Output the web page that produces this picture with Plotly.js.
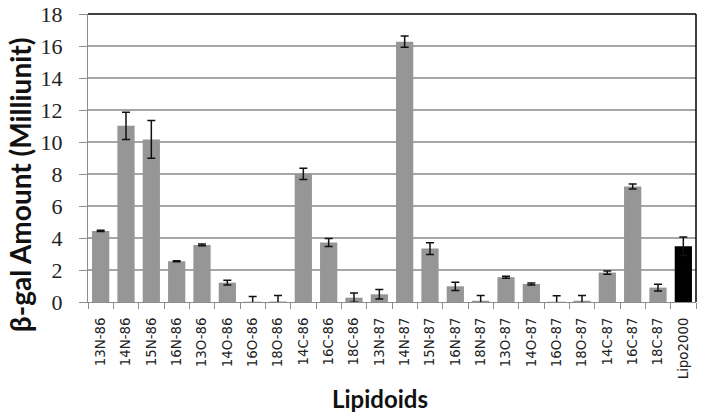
<!DOCTYPE html>
<html>
<head>
<meta charset="utf-8">
<script src="https://cdn.plot.ly/plotly-3.0.1.min.js"></script>
<style>html,body{margin:0;padding:0;background:#fff;}#chart{width:704px;height:418px;}</style>
</head>
<body>
<div id="chart"></div>
<script>
const categories = ["13N-86","14N-86","15N-86","16N-86","13O-86","14O-86","16O-86","18O-86","14C-86","16C-86","18C-86","13N-87","14N-87","15N-87","16N-87","18N-87","13O-87","14O-87","16O-87","18O-87","14C-87","16C-87","18C-87","Lipo2000"];
const values = [4.44, 11.01, 10.16, 2.55, 3.57, 1.21, 0.02, 0.03, 8.01, 3.72, 0.27, 0.48, 16.27, 3.34, 0.98, 0.08, 1.55, 1.13, 0.02, 0.08, 1.84, 7.22, 0.90, 3.49];
const errors = [0.04, 0.85, 1.18, 0.03, 0.06, 0.15, 0.32, 0.37, 0.35, 0.25, 0.29, 0.30, 0.35, 0.37, 0.26, 0.32, 0.06, 0.06, 0.37, 0.32, 0.10, 0.16, 0.21, 0.58];
const yTicks = [0, 2, 4, 6, 8, 10, 12, 14, 16, 18];
const xTitle = "Lipidoids";
const yTitle = "β-gal Amount (Milliunit)";

const barColors = categories.map(c => c === "Lipo2000" ? "#000000" : "#969696");

const trace = {
  type: "bar",
  x: categories,
  y: values,
  marker: {color: barColors, line: {width: 0}},
  error_y: {type: "data", array: errors, visible: true, color: "#111111", thickness: 1.5, width: 4},
  hoverinfo: "x+y"
};

const layout = {
  width: 704, height: 418,
  margin: {l: 88, r: 8, t: 14, b: 116, pad: 0},
  paper_bgcolor: "#ffffff", plot_bgcolor: "#ffffff",
  bargap: 0.32,
  showlegend: false,
  xaxis: {
    type: "category",
    tickangle: -90,
    tickson: "boundaries",
    ticks: "outside", ticklen: 6, tickcolor: "#8c8c8c", tickwidth: 1,
    showline: true, linecolor: "#8c8c8c", linewidth: 1,
    showgrid: false,
    ticklabelstandoff: 9,
    tickfont: {family: "DejaVu Sans", size: 13.4, color: "#222222"},
    automargin: false
  },
  yaxis: {
    range: [0, 18],
    tickvals: yTicks,
    ticktext: yTicks.map(String),
    ticks: "outside", ticklen: 8, tickcolor: "#8c8c8c", tickwidth: 1,
    showline: true, linecolor: "#8c8c8c", linewidth: 1,
    showgrid: true, gridcolor: "#a6a6a6", gridwidth: 1.5,
    zeroline: false,
    ticklabelstandoff: 12,
    tickfont: {family: "Liberation Serif", size: 22, color: "#222222"},
    automargin: false
  },
  annotations: [
    {text: yTitle, xref: "paper", yref: "paper", x: -0.1118, y: 0.4056, xanchor: "center", yanchor: "middle",
     textangle: -90, showarrow: false, font: {family: "Lato", size: 28, color: "#111111", weight: "bold"}},
    {text: xTitle, xref: "paper", yref: "paper", x: 0.480, y: -0.3347, xanchor: "center", yanchor: "middle",
     showarrow: false, font: {family: "Lato", size: 24, color: "#111111", weight: "bold"}}
  ],
  shapes: [
    {type: "line", xref: "paper", yref: "paper", x0: 0, x1: 1, y0: 1, y1: 1, line: {color: "#000000", width: 1.5}},
    {type: "line", xref: "paper", yref: "paper", x0: 1, x1: 1, y0: 0, y1: 1, line: {color: "#000000", width: 1.5}}
  ]
};

Plotly.newPlot("chart", [trace], layout, {displayModeBar: false, staticPlot: true});
</script>
</body>
</html>
